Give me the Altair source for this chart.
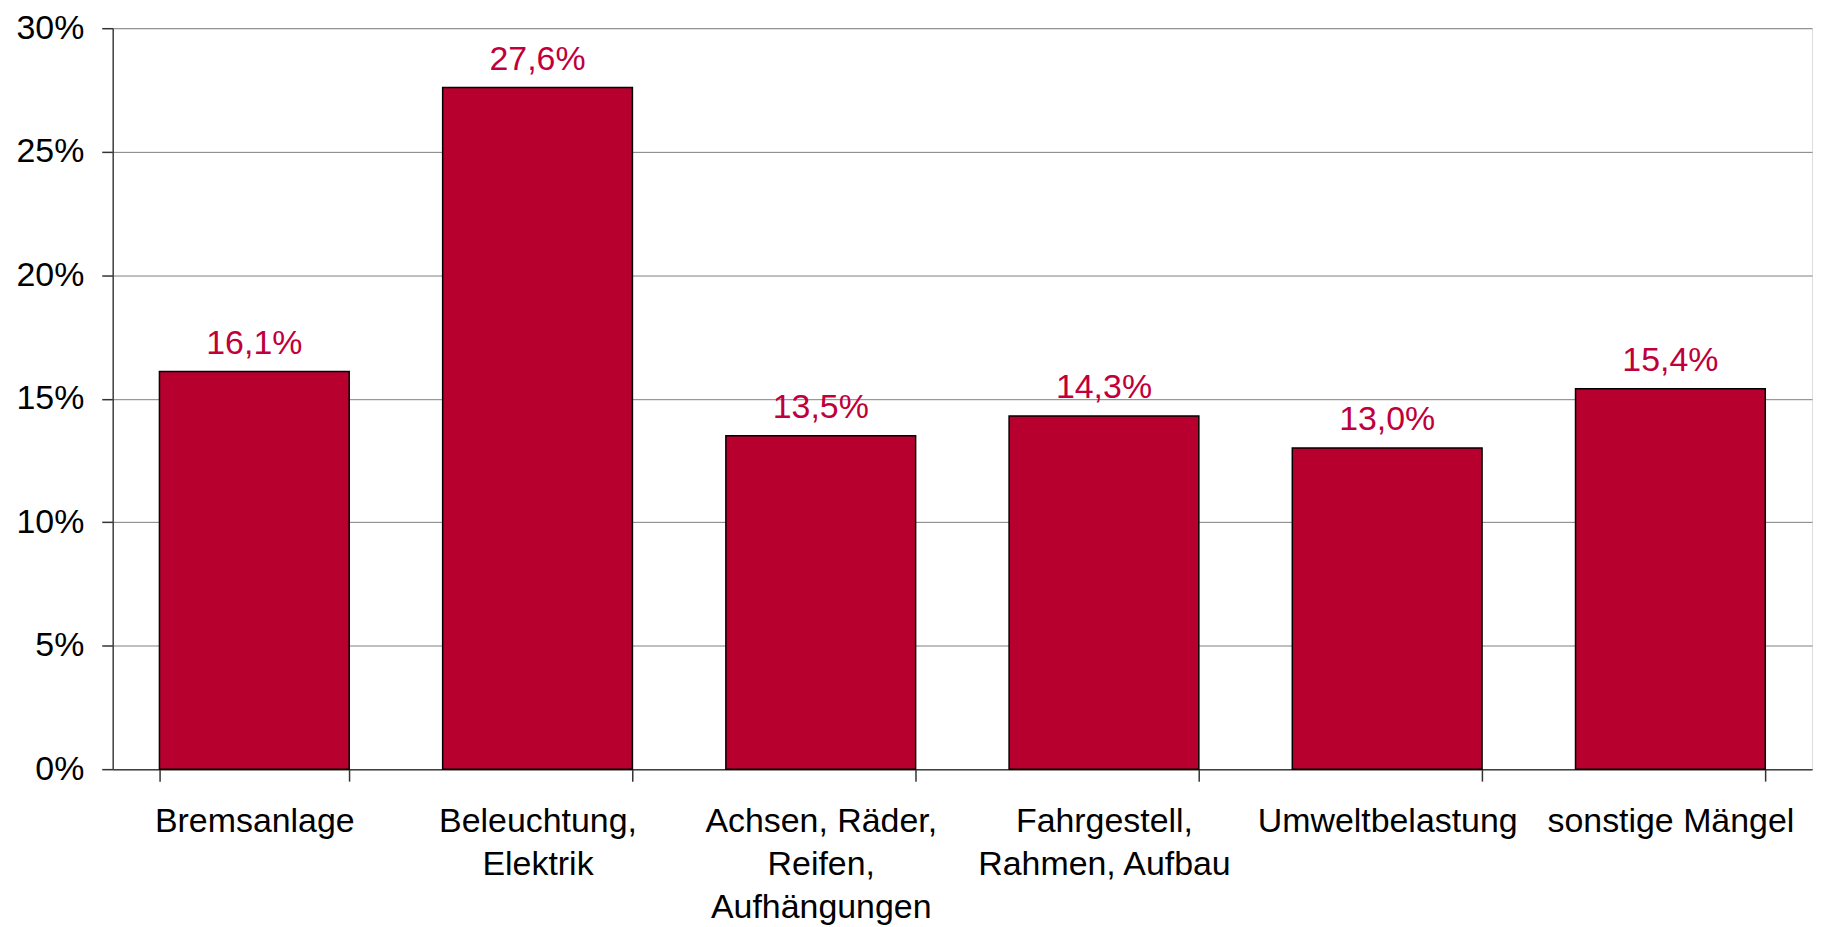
import altair as alt
import pandas as pd

categories = ["Bremsanlage", "Beleuchtung,\nElektrik", "Achsen, Räder,\nReifen,\nAufhängungen",
              "Fahrgestell,\nRahmen, Aufbau", "Umweltbelastung", "sonstige Mängel"]
values = [0.161, 0.276, 0.135, 0.143, 0.130, 0.154]
value_labels = ["16,1%", "27,6%", "13,5%", "14,3%", "13,0%", "15,4%"]
y_ticks = [0, 0.05, 0.10, 0.15, 0.20, 0.25, 0.30]

df = pd.DataFrame({"cat": categories, "val": values, "lab": value_labels})

FONT = "Liberation Sans"
RED = "#B8002F"

x = alt.X("cat:N", sort=categories, title=None,
          scale=alt.Scale(paddingInner=0.33, paddingOuter=0.165),
          axis=alt.Axis(labelAngle=0, labelExpr="split(datum.label, '\\n')",
                        labelFont=FONT, labelFontSize=34, labelColor="black",
                        labelLineHeight=43, labelPadding=24, labelLimit=400,
                        tickBand="extent", tickSize=12, tickColor="#333333", tickWidth=1.5,
                        domainColor="#404040", domainWidth=1.5, grid=False))
y = alt.Y("val:Q", title=None,
          scale=alt.Scale(domain=[0, 0.30], nice=False),
          axis=alt.Axis(values=y_ticks, format=".0%", labelFont=FONT, labelFontSize=34,
                        labelColor="black", labelPadding=18, tickSize=11, tickColor="#333333",
                        tickWidth=1.5, domainColor="#404040", domainWidth=1.5,
                        grid=True, gridColor="#808080", gridWidth=1))

bars = alt.Chart(df).mark_bar(color=RED, stroke="black", strokeWidth=1.5).encode(x=x, y=y)
texts = alt.Chart(df).mark_text(font=FONT, fontSize=34, color="#C0003A", dy=-18,
                                baseline="alphabetic").encode(
    x=alt.X("cat:N", sort=categories), y="val:Q", text="lab:N")

chart = (bars + texts).properties(
    width=1704, height=743,
    padding={"left": 105, "top": 19, "right": 3, "bottom": 157},
    autosize=alt.AutoSizeParams(type="none"),
).configure_view(stroke="#808080", strokeWidth=1).configure(background="white")

chart.save("out.html", embed_options={"renderer": "svg", "actions": False})
